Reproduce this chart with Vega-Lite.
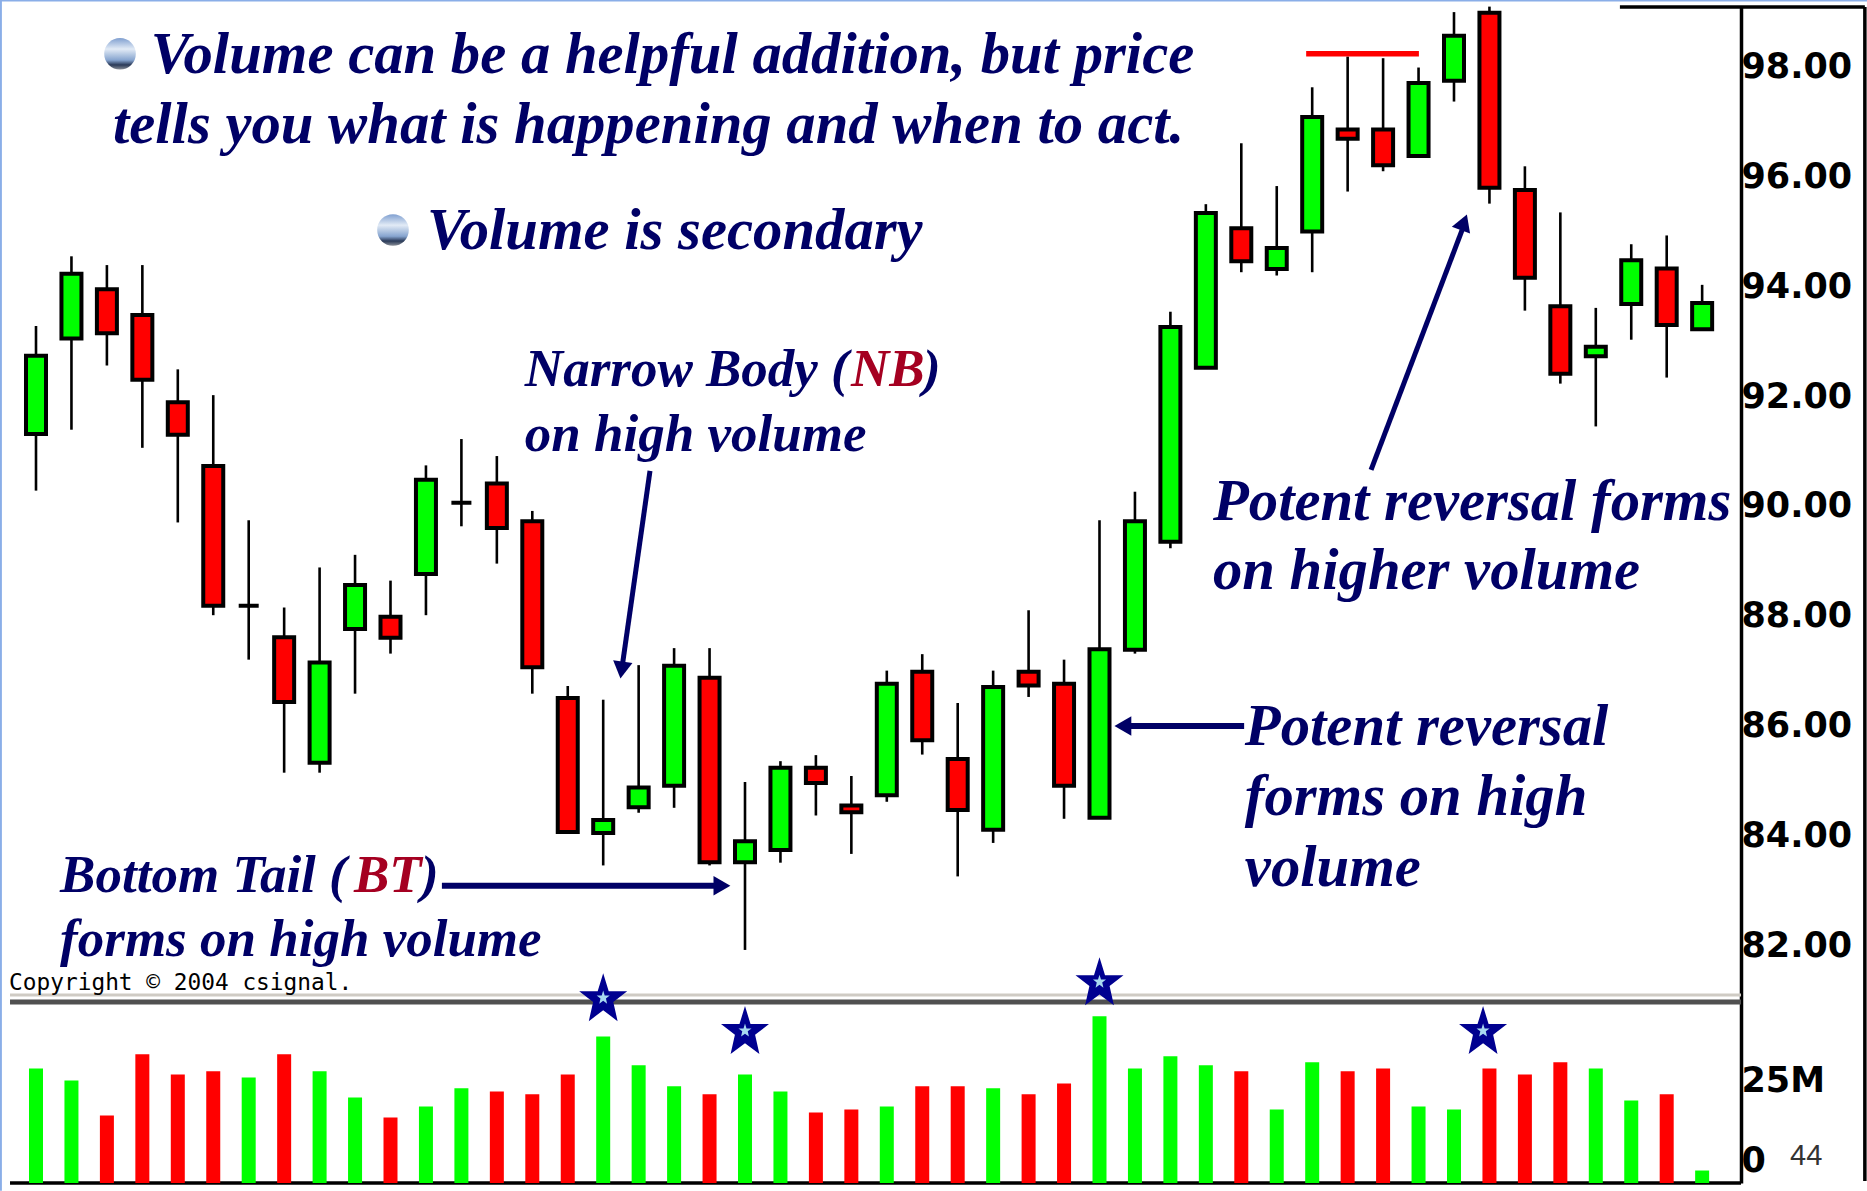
{
"$schema":"https://vega.github.io/schema/vega-lite/v6.json",
"width":1741,"height":1176,
"autosize":{"type":"none"},
"padding":{"top":7,"left":0,"right":126,"bottom":8},
"background":"white",
"config":{"view":{"stroke":null}},
"datasets":{
"candles":[
{"i":0,"high":93.28,"open":91.31,"close":92.74,"low":90.28,"volume":35.8,"volDir":"up"},
{"i":1,"high":94.55,"open":93.05,"close":94.23,"low":91.39,"volume":32.0,"volDir":"up"},
{"i":2,"high":94.39,"open":93.95,"close":93.15,"low":92.56,"volume":21.1,"volDir":"down"},
{"i":3,"high":94.39,"open":93.48,"close":92.30,"low":91.06,"volume":40.2,"volDir":"down"},
{"i":4,"high":92.49,"open":91.89,"close":91.30,"low":89.70,"volume":33.9,"volDir":"down"},
{"i":5,"high":92.02,"open":90.73,"close":88.18,"low":88.01,"volume":34.9,"volDir":"down"},
{"i":6,"high":89.74,"open":88.18,"close":88.18,"low":87.20,"volume":33.0,"volDir":"up"},
{"i":7,"high":88.15,"open":87.61,"close":86.43,"low":85.14,"volume":40.2,"volDir":"down"},
{"i":8,"high":88.88,"open":85.32,"close":87.15,"low":85.14,"volume":34.9,"volDir":"up"},
{"i":9,"high":89.11,"open":87.76,"close":88.56,"low":86.58,"volume":26.7,"volDir":"up"},
{"i":10,"high":88.64,"open":87.98,"close":87.60,"low":87.31,"volume":20.5,"volDir":"down"},
{"i":11,"high":90.74,"open":88.76,"close":90.48,"low":88.01,"volume":23.9,"volDir":"up"},
{"i":12,"high":91.22,"open":90.06,"close":90.06,"low":89.63,"volume":29.6,"volDir":"up"},
{"i":13,"high":90.91,"open":90.41,"close":89.60,"low":88.95,"volume":28.6,"volDir":"down"},
{"i":14,"high":89.91,"open":89.72,"close":87.06,"low":86.58,"volume":27.7,"volDir":"down"},
{"i":15,"high":86.72,"open":86.50,"close":84.06,"low":84.06,"volume":33.9,"volDir":"down"},
{"i":16,"high":86.47,"open":84.04,"close":84.28,"low":83.45,"volume":45.8,"volDir":"up"},
{"i":17,"high":87.10,"open":84.51,"close":84.87,"low":84.41,"volume":36.8,"volDir":"up"},
{"i":18,"high":87.41,"open":84.90,"close":87.09,"low":84.50,"volume":30.2,"volDir":"up"},
{"i":19,"high":87.41,"open":86.87,"close":83.51,"low":83.45,"volume":27.7,"volDir":"down"},
{"i":20,"high":84.97,"open":83.51,"close":83.89,"low":81.91,"volume":33.9,"volDir":"up"},
{"i":21,"high":85.35,"open":83.73,"close":85.23,"low":83.50,"volume":28.6,"volDir":"up"},
{"i":22,"high":85.46,"open":85.23,"close":84.95,"low":84.36,"volume":22.0,"volDir":"down"},
{"i":23,"high":85.08,"open":84.54,"close":84.42,"low":83.66,"volume":23.0,"volDir":"down"},
{"i":24,"high":87.00,"open":84.73,"close":86.76,"low":84.61,"volume":23.9,"volDir":"up"},
{"i":25,"high":87.30,"open":86.98,"close":85.73,"low":85.47,"volume":30.2,"volDir":"down"},
{"i":26,"high":86.41,"open":85.39,"close":84.46,"low":83.25,"volume":30.2,"volDir":"down"},
{"i":27,"high":87.00,"open":84.10,"close":86.70,"low":83.86,"volume":29.6,"volDir":"up"},
{"i":28,"high":88.10,"open":86.98,"close":86.73,"low":86.52,"volume":27.7,"volDir":"down"},
{"i":29,"high":87.20,"open":86.76,"close":84.90,"low":84.30,"volume":31.1,"volDir":"down"},
{"i":30,"high":89.74,"open":84.32,"close":87.39,"low":84.32,"volume":52.1,"volDir":"up"},
{"i":31,"high":90.26,"open":87.38,"close":89.72,"low":87.31,"volume":35.8,"volDir":"up"},
{"i":32,"high":93.54,"open":89.35,"close":93.26,"low":89.23,"volume":39.6,"volDir":"up"},
{"i":33,"high":95.50,"open":92.52,"close":95.34,"low":92.52,"volume":36.8,"volDir":"up"},
{"i":34,"high":96.61,"open":95.06,"close":94.46,"low":94.26,"volume":34.9,"volDir":"down"},
{"i":35,"high":95.83,"open":94.32,"close":94.70,"low":94.20,"volume":23.0,"volDir":"up"},
{"i":36,"high":97.63,"open":95.00,"close":97.09,"low":94.26,"volume":37.7,"volDir":"up"},
{"i":37,"high":98.19,"open":96.86,"close":96.69,"low":95.73,"volume":34.9,"volDir":"down"},
{"i":38,"high":98.16,"open":96.86,"close":96.21,"low":96.10,"volume":35.8,"volDir":"down"},
{"i":39,"high":97.99,"open":96.38,"close":97.71,"low":96.38,"volume":23.9,"volDir":"up"},
{"i":40,"high":99.00,"open":97.75,"close":98.57,"low":97.37,"volume":23.0,"volDir":"up"},
{"i":41,"high":99.10,"open":98.99,"close":95.80,"low":95.51,"volume":35.8,"volDir":"down"},
{"i":42,"high":96.19,"open":95.76,"close":94.16,"low":93.56,"volume":33.9,"volDir":"down"},
{"i":43,"high":95.35,"open":93.64,"close":92.41,"low":92.23,"volume":37.7,"volDir":"down"},
{"i":44,"high":93.61,"open":92.73,"close":92.90,"low":91.45,"volume":35.8,"volDir":"up"},
{"i":45,"high":94.77,"open":93.68,"close":94.48,"low":93.03,"volume":25.8,"volDir":"up"},
{"i":46,"high":94.93,"open":94.33,"close":93.30,"low":92.34,"volume":27.7,"volDir":"down"},
{"i":47,"high":94.03,"open":93.22,"close":93.70,"low":93.22,"volume":3.9,"volDir":"up"}
],
"bigText":[
{"i":3.24,"p":97.89,"label":"Volume can be a helpful addition, but price"},
{"i":2.17,"p":96.61,"label":"tells you what is happening and when to act."},
{"i":11.03,"p":94.68,"label":"Volume is secondary"},
{"i":33.2,"p":89.74,"label":"Potent reversal forms"},
{"i":33.2,"p":88.49,"label":"on higher volume"},
{"i":34.1,"p":85.64,"label":"Potent reversal"},
{"i":34.1,"p":84.37,"label":"forms on high"},
{"i":34.1,"p":83.07,"label":"volume"}
],
"midText":[
{"i":13.79,"p":92.18,"label":"Narrow Body ("},
{"i":25.02,"p":92.18,"label":")"},
{"i":13.79,"p":91.0,"label":"on high volume"},
{"i":0.68,"p":82.97,"label":"Bottom Tail ("},
{"i":10.86,"p":82.97,"label":")"},
{"i":0.68,"p":81.80,"label":"forms on high volume"}
],
"redText":[
{"i":22.99,"p":92.18,"label":"NB"},
{"i":8.97,"p":82.97,"label":"BT"}
],
"stars":[{"i":16,"p":81.05},{"i":20,"p":80.45},{"i":30,"p":81.34},{"i":40.82,"p":80.45}],
"bullets":[{"i":2.37,"p":98.24},{"i":10.07,"p":95.03}],
"arrowsThin":[
{"i":17.32,"p":90.64,"i2":16.53,"p2":87.05},
{"i":37.66,"p":90.66,"i2":40.23,"p2":95.03}
],
"arrowsThick":[
{"i":11.45,"p":83.08,"i2":19.15,"p2":83.08},
{"i":34.08,"p":85.99,"i2":30.86,"p2":85.99}
],
"heads":[
{"i":16.52,"p":87.01,"dir":188},
{"i":19.35,"p":83.08,"dir":90},
{"i":30.66,"p":85.99,"dir":270},
{"i":40.28,"p":95.17,"dir":20.6}
],
"blackLines":[
{"i":-0.733,"p":77.663,"i2":48.096,"p2":77.663},
{"i":44.68,"p":99.093,"i2":51.59,"p2":99.093},
{"i":51.59,"p":99.093,"i2":51.59,"p2":77.70}
],
"frame":[
{"i":-1.0155,"p":99.21,"i2":51.65,"p2":99.21},
{"i":-0.99,"p":99.21,"i2":-0.99,"p2":77.52}
]
},
"layer":[
{"encoding":{"x":{"field":"i","type":"quantitative","axis":null,"scale":{"domain":[-1.0155,48.096],"nice":false,"zero":false,"padding":0}}},
"layer":[
{"data":{"name":"frame"},"mark":{"type":"rule","color":"#8aaee8","strokeWidth":2,"clip":false},
"encoding":{"x2":{"field":"i2"},"y":{"field":"p","type":"quantitative","scale":{"domain":[77.663,99.093],"nice":false,"zero":false},
"axis":{"orient":"right","title":null,"grid":false,"ticks":false,"domain":true,"domainColor":"black","domainWidth":3.5,"values":[82,84,86,88,90,92,94,96,98],"format":".2f","labelFont":"DejaVu Sans","labelFontWeight":"bold","labelFontSize":35,"labelColor":"black","labelPadding":0,"labelBound":false,"labelFlush":false,"labelOverlap":false}},"y2":{"field":"p2"}}},
{"data":{"name":"blackLines"},"mark":{"type":"rule","color":"black","strokeWidth":3.5,"clip":false},
"encoding":{"x2":{"field":"i2"},"y":{"field":"p","type":"quantitative","scale":{"domain":[77.663,99.093],"nice":false,"zero":false}},"y2":{"field":"p2"}}},
{"data":{"values":[{"i":-0.733,"p":81.09,"i2":48.096}]},"mark":{"type":"rule","color":"#cfcbc4","strokeWidth":3},
"encoding":{"x2":{"field":"i2"},"y":{"field":"p","type":"quantitative","scale":{"domain":[77.663,99.093],"nice":false,"zero":false}}}},
{"data":{"values":[{"i":-0.733,"p":80.96,"i2":48.096}]},"mark":{"type":"rule","color":"#505050","strokeWidth":5},
"encoding":{"x2":{"field":"i2"},"y":{"field":"p","type":"quantitative","scale":{"domain":[77.663,99.093],"nice":false,"zero":false}}}},
{"data":{"name":"candles"},"mark":{"type":"rule","color":"black","strokeWidth":2.6},
"encoding":{"y":{"field":"high","type":"quantitative","scale":{"domain":[77.663,99.093],"nice":false,"zero":false}},"y2":{"field":"low"}}},
{"data":{"name":"candles"},"mark":{"type":"bar","size":20,"stroke":"black","strokeWidth":4},
"encoding":{"y":{"field":"open","type":"quantitative","scale":{"domain":[77.663,99.093],"nice":false,"zero":false}},"y2":{"field":"close"},
"fill":{"condition":{"test":"datum.close>=datum.open","value":"#00ff00"},"value":"#ff0000"}}},
{"data":{"values":[{"i":35.83,"p":98.24,"i2":39.01}]},"mark":{"type":"rule","color":"#ff0000","strokeWidth":5.5},
"encoding":{"x2":{"field":"i2"},"y":{"field":"p","type":"quantitative","scale":{"domain":[77.663,99.093],"nice":false,"zero":false}}}},
{"data":{"name":"arrowsThin"},"mark":{"type":"rule","color":"#000066","strokeWidth":5},
"encoding":{"x2":{"field":"i2"},"y":{"field":"p","type":"quantitative","scale":{"domain":[77.663,99.093],"nice":false,"zero":false}},"y2":{"field":"p2"}}},
{"data":{"name":"arrowsThick"},"mark":{"type":"rule","color":"#000066","strokeWidth":6},
"encoding":{"x2":{"field":"i2"},"y":{"field":"p","type":"quantitative","scale":{"domain":[77.663,99.093],"nice":false,"zero":false}},"y2":{"field":"p2"}}},
{"data":{"name":"heads"},"mark":{"type":"point","shape":"triangle-up","filled":true,"color":"#000066","size":380,"opacity":1},
"encoding":{"y":{"field":"p","type":"quantitative","scale":{"domain":[77.663,99.093],"nice":false,"zero":false}},"angle":{"field":"dir","type":"quantitative","scale":null}}},
{"data":{"name":"stars"},"mark":{"type":"point","shape":"M0,-1L.23,-.25L1,-.25L.42,.2L.6,1L0,.55L-.6,1L-.42,.2L-1,-.25L-.23,-.25Z","filled":true,"color":"#000090","size":2304,"opacity":1},
"encoding":{"y":{"field":"p","type":"quantitative","scale":{"domain":[77.663,99.093],"nice":false,"zero":false}}}},
{"data":{"name":"stars"},"mark":{"type":"point","shape":"M0,-1L.23,-.25L1,-.25L.42,.2L.6,1L0,.55L-.6,1L-.42,.2L-1,-.25L-.23,-.25Z","filled":true,"color":"#a8d8f0","size":170,"opacity":1},
"encoding":{"y":{"field":"p","type":"quantitative","scale":{"domain":[77.663,99.093],"nice":false,"zero":false}}}},
{"data":{"name":"bullets"},"mark":{"type":"point","shape":"circle","filled":true,"size":1000,"opacity":1,"color":{"gradient":"linear","x1":0.5,"y1":0,"x2":0.5,"y2":1,"stops":[{"offset":0,"color":"#7f9fd0"},{"offset":0.35,"color":"#e2ebf6"},{"offset":0.7,"color":"#86a4cf"},{"offset":0.85,"color":"#2a3a58"},{"offset":1,"color":"#8a8f98"}]}},
"encoding":{"y":{"field":"p","type":"quantitative","scale":{"domain":[77.663,99.093],"nice":false,"zero":false}}}},
{"data":{"name":"bigText"},"mark":{"type":"text","font":"Liberation Serif","fontStyle":"italic","fontWeight":"bold","fontSize":58.7,"color":"#000066","align":"left","baseline":"alphabetic"},
"encoding":{"text":{"field":"label"},"y":{"field":"p","type":"quantitative","scale":{"domain":[77.663,99.093],"nice":false,"zero":false}}}},
{"data":{"name":"midText"},"mark":{"type":"text","font":"Liberation Serif","fontStyle":"italic","fontWeight":"bold","fontSize":53,"color":"#000066","align":"left","baseline":"alphabetic"},
"encoding":{"text":{"field":"label"},"y":{"field":"p","type":"quantitative","scale":{"domain":[77.663,99.093],"nice":false,"zero":false}}}},
{"data":{"name":"redText"},"mark":{"type":"text","font":"Liberation Serif","fontStyle":"italic","fontWeight":"bold","fontSize":53,"color":"#a50021","align":"left","baseline":"alphabetic"},
"encoding":{"text":{"field":"label"},"y":{"field":"p","type":"quantitative","scale":{"domain":[77.663,99.093],"nice":false,"zero":false}}}},
{"data":{"values":[{"i":-0.76,"p":81.18,"label":"Copyright © 2004 csignal."}]},"mark":{"type":"text","font":"DejaVu Sans Mono","fontSize":22.8,"color":"black","align":"left","baseline":"alphabetic"},
"encoding":{"text":{"field":"label"},"y":{"field":"p","type":"quantitative","scale":{"domain":[77.663,99.093],"nice":false,"zero":false}}}},
{"data":{"values":[{"i":49.48,"p":77.99,"label":"44"}]},"mark":{"type":"text","font":"Liberation Sans","fontSize":29,"color":"#333333","align":"left","baseline":"alphabetic"},
"encoding":{"text":{"field":"label"},"y":{"field":"p","type":"quantitative","scale":{"domain":[77.663,99.093],"nice":false,"zero":false}}}}
]},
{"data":{"name":"candles"},"mark":{"type":"bar","size":14},
"encoding":{"x":{"field":"i","type":"quantitative","axis":null,"scale":{"domain":[-1.0155,48.096],"nice":false,"zero":false,"padding":0}},
"y":{"field":"volume","type":"quantitative","scale":{"domain":[0,367.5],"nice":false},
"axis":{"orient":"right","title":null,"grid":false,"ticks":false,"domain":false,"values":[0,25],"labelExpr":"datum.value==25?'25M':'0'","labelOffset":-23,"labelFont":"DejaVu Sans","labelFontWeight":"bold","labelFontSize":35,"labelColor":"black","labelPadding":0,"labelBound":false,"labelFlush":false,"labelOverlap":false}},
"color":{"field":"volDir","type":"nominal","legend":null,"scale":{"domain":["up","down"],"range":["#00ff00","#ff0000"]}}}}
],
"resolve":{"scale":{"y":"independent"},"axis":{"y":"independent"}}
}
